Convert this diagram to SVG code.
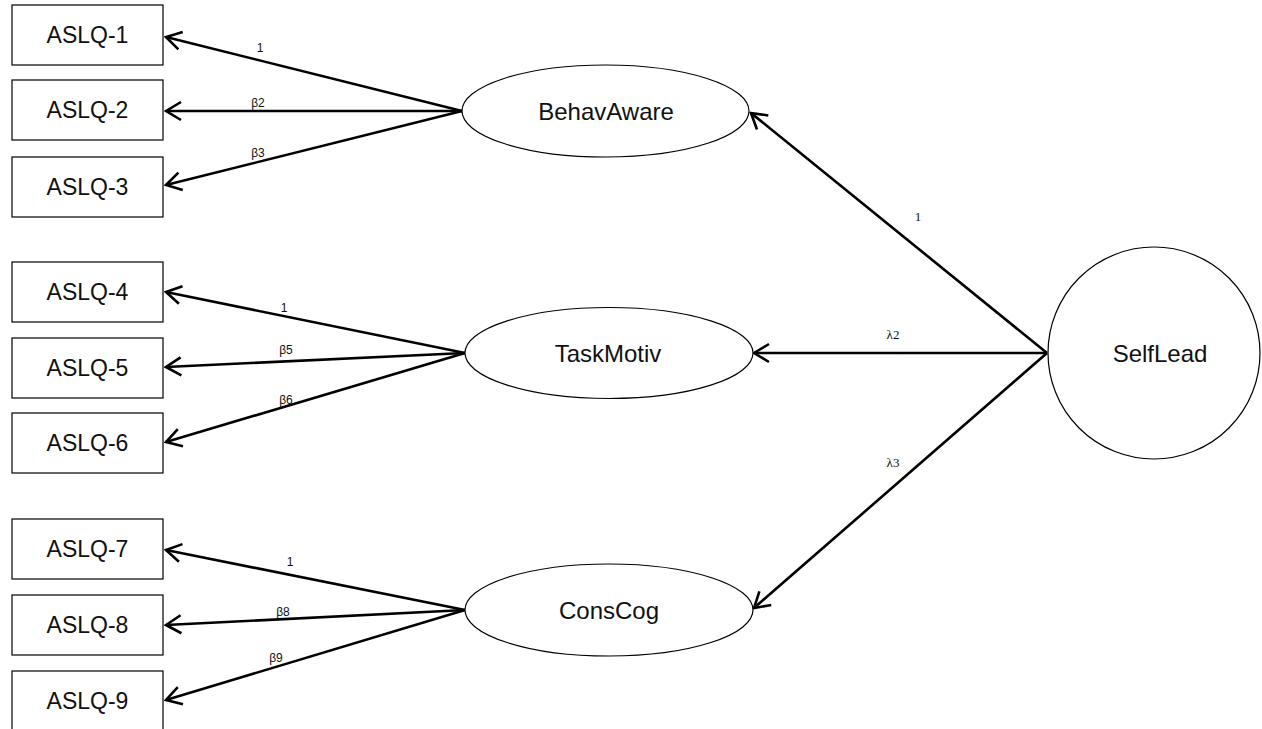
<svg xmlns="http://www.w3.org/2000/svg" width="1262" height="729" viewBox="0 0 1262 729">
  <style>
    .box { fill: #ffffff; stroke: #000000; stroke-width: 1.2; }
    .lat { fill: #ffffff; stroke: #000000; stroke-width: 1.2; }
    .name { font-family: "Liberation Sans", Arial, sans-serif; font-size: 23px; fill: #111111; text-anchor: middle; }
    .lname { font-family: "Liberation Sans", Arial, sans-serif; font-size: 24px; fill: #111111; text-anchor: middle; }
    .path { stroke: #000000; stroke-width: 2.6; fill: none; marker-end: url(#arrow); }
    .coef { font-family: "Liberation Sans", Arial, sans-serif; font-size: 12px; fill: #111111; text-anchor: middle; }
    .coefs { font-family: "Liberation Serif", "Times New Roman", serif; font-size: 13px; fill: #111111; text-anchor: middle; }
  </style>
  <defs>
    <marker id="arrow" markerUnits="userSpaceOnUse" viewBox="-18 -11 20 22" markerWidth="20" markerHeight="22" refX="0" refY="0" orient="auto">
      <path d="M-15,-9 L0,0 L-15,9" fill="none" stroke="#000000" stroke-width="2.6"/>
    </marker>
  </defs>
  <rect width="1262" height="729" fill="#ffffff"/>

  <!-- connectors -->
  <g id="connectors">
    <line class="path" x1="462" y1="111" x2="166" y2="37"/>
    <line class="path" x1="462" y1="111" x2="166" y2="111"/>
    <line class="path" x1="462" y1="111" x2="166" y2="185"/>
    <line class="path" x1="465" y1="353" x2="166" y2="292"/>
    <line class="path" x1="465" y1="353" x2="166" y2="367"/>
    <line class="path" x1="465" y1="353" x2="166" y2="442"/>
    <line class="path" x1="465" y1="610" x2="166" y2="550"/>
    <line class="path" x1="465" y1="610" x2="166" y2="625"/>
    <line class="path" x1="465" y1="610" x2="166" y2="700"/>
    <line class="path" x1="1047" y1="353" x2="751" y2="113"/>
    <line class="path" x1="1047" y1="353" x2="754" y2="353"/>
    <line class="path" x1="1047" y1="353" x2="754" y2="608"/>

    <text class="coef" x="260" y="52">1</text>
    <text class="coef" x="258" y="107">β2</text>
    <text class="coef" x="258" y="157">β3</text>
    <text class="coef" x="284" y="312">1</text>
    <text class="coef" x="286" y="354">β5</text>
    <text class="coef" x="286" y="404">β6</text>
    <text class="coef" x="290" y="566">1</text>
    <text class="coef" x="283" y="616">β8</text>
    <text class="coef" x="276" y="662">β9</text>
    <text class="coefs" x="918" y="221">1</text>
    <text class="coefs" x="893" y="339">λ2</text>
    <text class="coefs" x="893" y="467">λ3</text>
  </g>

  <!-- observed indicators -->
  <g id="aslq1"><rect class="box" x="12" y="5" width="151" height="60"/><text class="name" x="87.5" y="43">ASLQ-1</text></g>
  <g id="aslq2"><rect class="box" x="12" y="80" width="151" height="60"/><text class="name" x="87.5" y="118">ASLQ-2</text></g>
  <g id="aslq3"><rect class="box" x="12" y="157" width="151" height="60"/><text class="name" x="87.5" y="195">ASLQ-3</text></g>
  <g id="aslq4"><rect class="box" x="12" y="262" width="151" height="60"/><text class="name" x="87.5" y="300">ASLQ-4</text></g>
  <g id="aslq5"><rect class="box" x="12" y="338" width="151" height="60"/><text class="name" x="87.5" y="376">ASLQ-5</text></g>
  <g id="aslq6"><rect class="box" x="12" y="413" width="151" height="60"/><text class="name" x="87.5" y="451">ASLQ-6</text></g>
  <g id="aslq7"><rect class="box" x="12" y="519" width="151" height="60"/><text class="name" x="87.5" y="557">ASLQ-7</text></g>
  <g id="aslq8"><rect class="box" x="12" y="595" width="151" height="60"/><text class="name" x="87.5" y="633">ASLQ-8</text></g>
  <g id="aslq9"><rect class="box" x="12" y="671" width="151" height="60"/><text class="name" x="87.5" y="709">ASLQ-9</text></g>

  <!-- first-order factors -->
  <g id="behavaware"><ellipse class="lat" cx="605.5" cy="111" rx="143.5" ry="46"/><text class="lname" x="606" y="120">BehavAware</text></g>
  <g id="taskmotiv"><ellipse class="lat" cx="609" cy="353" rx="144" ry="45.5"/><text class="lname" x="608" y="362">TaskMotiv</text></g>
  <g id="conscog"><ellipse class="lat" cx="609" cy="610" rx="144" ry="46"/><text class="lname" x="609" y="619">ConsCog</text></g>

  <!-- second-order factor -->
  <g id="selflead"><circle class="lat" cx="1154" cy="353" r="106"/><text class="lname" x="1160" y="362">SelfLead</text></g>
</svg>
